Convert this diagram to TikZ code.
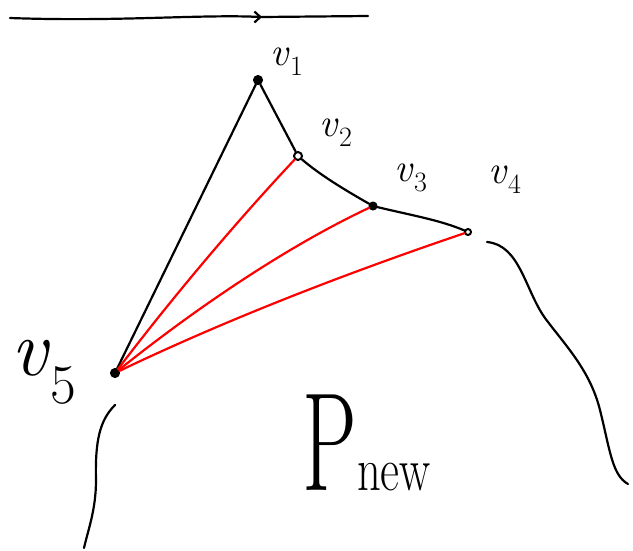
\documentclass[tikz,border=0pt]{standalone}
\usepackage{tikz}
\usetikzlibrary{arrows.meta}
\definecolor{SketchRed}{HTML}{FF0000}
\newcommand{\vlab}[1]{\textit{v}\textsubscript{#1}}

\begin{document}
\begin{tikzpicture}[x=1pt,y=-1pt,line cap=round,line join=round,
  pen/.style={line width=2.2pt},
  vtx/.style={circle,draw,line width=2pt,inner sep=0pt,minimum size=8pt},
  lbl/.style={font=\fontsize{40}{44}\selectfont}]
  \useasboundingbox (0,0) rectangle (633,550);
  % direction arrow on top
  \coordinate (T0) at (10,18);\coordinate (T1) at (368,16);\coordinate (Tm) at (262,17);
  \draw[pen] (T0) .. controls (120,22) and (200,14) .. (Tm);
  \draw[pen,-{Straight Barb[length=6pt,width=11pt]}] (252,17) -- (Tm);
  \draw[pen] (Tm) -- (T1);
  % vertices
  \node[vtx,fill] (v1) at (258,80) {};
  \node[vtx] (v2) at (298,156) {};
  \node[vtx,fill,minimum size=7pt] (v3) at (373,206) {};
  \node[vtx,minimum size=6pt] (v4) at (468,232) {};
  \node[vtx,fill] (v5) at (115,373) {};
  \node[lbl] (l1) at (287,62) {\vlab{1}};
  \node[lbl] (l2) at (336,133) {\vlab{2}};
  \node[lbl] (l3) at (411,178) {\vlab{3}};
  \node[lbl] (l4) at (505,180) {\vlab{4}};
  \node[font=\fontsize{80}{80}\selectfont] (l5) at (44,372) {\vlab{5}};
  \node[font=\fontsize{140}{140}\selectfont,anchor=base west,inner sep=0pt] (pnew) at (302,490) {\scalebox{0.62}[1]{P}};
  \node[font=\fontsize{62}{62}\selectfont,anchor=base west,inner sep=0pt] (new) at (pnew.base east) {\scalebox{0.75}[1]{new}};
  % boundary of old polygon
  \draw[pen] (v1) -- (v5);
  \draw[pen] (v1) -- (v2);
  \draw[pen] (v2) .. controls (320,175) and (345,190) .. (v3);
  \draw[pen] (v3) .. controls (410,215) and (440,220) .. (v4);
  % new diagonals
  \draw[SketchRed,pen] (v5) .. controls (172,298) and (236,222) .. (v2);
  \draw[SketchRed,pen] (v5) .. controls (200,305) and (290,245) .. (v3);
  \draw[SketchRed,pen] (v5) .. controls (230,318) and (350,272) .. (v4);
  % rest of the outline
  \draw[pen] (487,242) .. controls (520,245) and (525,290) .. (545,318)
    .. controls (565,345) and (590,370) .. (600,410)
    .. controls (610,450) and (612,475) .. (628,484);
  \draw[pen] (115,405) .. controls (100,420) and (95,440) .. (96,480)
    .. controls (96,510) and (88,530) .. (84,548);
\end{tikzpicture}
\end{document}
